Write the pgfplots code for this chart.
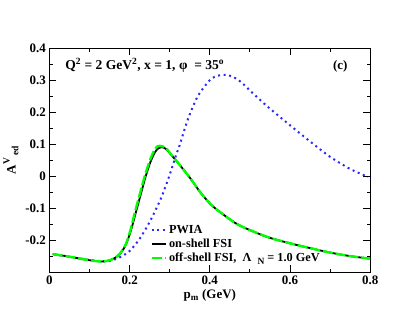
\documentclass[border=0pt]{standalone}
\usepackage{fontspec}
\setmainfont{Liberation Serif}
\usepackage{pgfplots}
\pgfplotsset{compat=1.18}
\usetikzlibrary{calc}
\definecolor{pwblue}{RGB}{40,40,255}
\definecolor{offgreen}{RGB}{0,255,0}

\begin{document}
\begin{tikzpicture}
\begin{axis}[
  scale only axis, width=321.7pt, height=225pt,
  xmin=0, xmax=0.8, ymin=-0.3, ymax=0.4,
  xtick={0,0.2,0.4,0.6,0.8}, xticklabels={0,0.2,0.4,0.6,0.8},
  minor xtick={0.1,0.3,0.5,0.7},
  ytick={-0.2,-0.1,0,0.1,0.2,0.3,0.4},
  yticklabels={-0.2,-0.1,0,0.1,0.2,0.3,0.4},
  minor ytick={-0.25,-0.15,-0.05,0.05,0.15,0.25,0.35},
  tick align=inside, major tick length=7pt, minor tick length=3.5pt,
  every tick/.style={black, line width=0.9pt},
  axis line style={line width=1.3pt},
  tick label style={font=\fontsize{13}{13}\selectfont\bfseries},
  label style={font=\fontsize{13}{13}\selectfont\bfseries},
  xlabel={p\textsubscript{m} (GeV)},
  xlabel style={yshift=2pt},
  ylabel={A\raisebox{6pt}{\fontsize{9.5}{9.5}\selectfont V}\,\raisebox{-3pt}{\fontsize{9.5}{9.5}\selectfont ed}},
  legend style={at={(rel axis cs:0.315,0.22)}, anchor=north west,
    draw=none, fill=none, inner sep=0pt, row sep=0pt,
    font=\fontsize{12.3}{13.2}\selectfont\bfseries},
  legend cell align=left,
  legend image code/.code={\draw[#1] (0pt,0pt) -- (14pt,0pt);},
]
\addplot[pwblue, line width=2pt, line cap=butt, dash pattern=on 2pt off 3.6pt, smooth, tension=0.5] coordinates {
 (0.01,-0.243) (0.05,-0.251) (0.09,-0.259) (0.125,-0.265) (0.15,-0.264)
 (0.175,-0.253) (0.2,-0.233) (0.225,-0.195) (0.25,-0.142) (0.275,-0.078)
 (0.29,-0.03) (0.3,0.005) (0.315,0.063) (0.325,0.098) (0.345,0.177)
 (0.37,0.25) (0.4,0.300) (0.42,0.314) (0.44,0.317) (0.46,0.309)
 (0.48,0.292) (0.5,0.268) (0.54,0.222) (0.58,0.180) (0.62,0.139)
 (0.66,0.099) (0.7,0.061) (0.75,0.023) (0.795,-0.002)};
\addlegendentry{PWIA}
\addplot[black, line width=1.8pt, smooth, tension=0.5] coordinates {
 (0.008,-0.2425) (0.05,-0.251) (0.09,-0.260) (0.12,-0.265) (0.14,-0.265)
 (0.16,-0.257) (0.175,-0.243) (0.19,-0.215) (0.203,-0.170) (0.215,-0.115)
 (0.228,-0.055) (0.24,0.000) (0.252,0.045) (0.263,0.075) (0.272,0.088)
 (0.28,0.091) (0.29,0.086) (0.303,0.068) (0.328,0.031) (0.353,-0.009)
 (0.377,-0.051) (0.402,-0.087) (0.427,-0.113) (0.468,-0.149) (0.51,-0.173)
 (0.55,-0.192) (0.6,-0.209) (0.65,-0.224) (0.7,-0.238) (0.75,-0.249)
 (0.80,-0.257)};
\addlegendentry{on-shell FSI}
\addplot[offgreen, line width=2.4pt, dash pattern=on 10pt off 3pt, smooth, tension=0.5] coordinates {
 (0.008,-0.2425) (0.05,-0.251) (0.09,-0.260) (0.12,-0.265) (0.14,-0.265)
 (0.16,-0.257) (0.175,-0.242) (0.19,-0.213) (0.202,-0.168) (0.213,-0.113)
 (0.226,-0.053) (0.238,0.002) (0.25,0.048) (0.261,0.080) (0.27,0.094)
 (0.28,0.094) (0.29,0.089) (0.303,0.069) (0.328,0.031) (0.353,-0.009)
 (0.377,-0.051) (0.402,-0.087) (0.427,-0.113) (0.468,-0.149) (0.51,-0.173)
 (0.55,-0.192) (0.6,-0.209) (0.65,-0.224) (0.7,-0.238) (0.75,-0.249)
 (0.80,-0.257)};
\addlegendentry{off-shell FSI,\ \ Λ\ \ \raisebox{-3pt}{\fontsize{9.5}{9.5}\selectfont N} = 1.0 GeV}
\node[anchor=base west, font=\fontsize{13.6}{13.6}\selectfont\bfseries] at (rel axis cs:0.0385,0.904)
  {Q\textsuperscript{2} = 2 GeV\textsuperscript{2}, x = 1,\ φ\ \ = 35\textsuperscript{o}};
\node[anchor=base east, font=\fontsize{13}{13}\selectfont\bfseries] at (rel axis cs:0.94,0.904) {(c)};
\coordinate (ll) at (rel axis cs:0,0);
\coordinate (ur) at (rel axis cs:1,1);
\end{axis}
\path ($(ll)+(-48.3pt,-48.7pt)$) rectangle ($(ur)+(47pt,48.3pt)$);
\end{tikzpicture}
\end{document}
